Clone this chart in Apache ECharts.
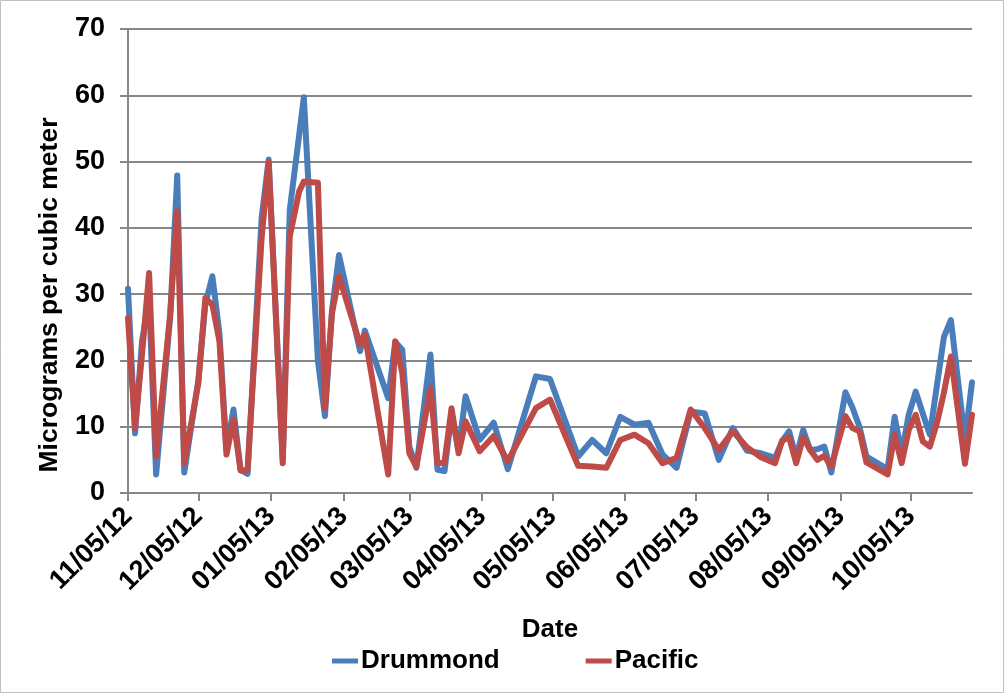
<!DOCTYPE html>
<html>
<head>
<meta charset="utf-8">
<script src="https://cdn.jsdelivr.net/npm/echarts@6/dist/echarts.min.js"></script>
<style>html,body{margin:0;padding:0;background:#fff}#c{width:1004px;height:693px}</style>
</head>
<body>
<div id="c"></div>
<script>
const dates = ['2012-11-05','2012-11-08','2012-11-11','2012-11-14','2012-11-17','2012-11-23','2012-11-26','2012-11-29',
'2012-12-05','2012-12-08','2012-12-11','2012-12-14','2012-12-17','2012-12-20','2012-12-23','2012-12-26',
'2013-01-01','2013-01-04','2013-01-10','2013-01-13','2013-01-17','2013-01-19','2013-01-25','2013-01-28','2013-01-31',
'2013-02-03','2013-02-12','2013-02-14','2013-02-24','2013-02-27','2013-03-02','2013-03-05','2013-03-08','2013-03-14',
'2013-03-17','2013-03-20','2013-03-23','2013-03-26','2013-03-29','2013-04-04','2013-04-10','2013-04-16','2013-04-28',
'2013-05-04','2013-05-16','2013-05-22','2013-05-28','2013-06-03','2013-06-09','2013-06-15','2013-06-21','2013-06-27',
'2013-07-03','2013-07-09','2013-07-15','2013-07-21','2013-07-27','2013-08-02','2013-08-08','2013-08-11','2013-08-14',
'2013-08-17','2013-08-20','2013-08-23','2013-08-26','2013-08-29','2013-09-01','2013-09-07','2013-09-10','2013-09-13',
'2013-09-16','2013-09-25','2013-09-28','2013-10-01','2013-10-04','2013-10-07','2013-10-10','2013-10-13','2013-10-16',
'2013-10-19','2013-10-22','2013-10-28','2013-10-31'];
const drummond = [30.8,9.0,23,29,2.8,26.6,47.9,3.1,
17,28.5,32.7,24.1,6.5,12.6,3.5,2.9,
41.5,50.3,5,42.7,54,59.7,20,11.6,27.5,
35.9,21.4,24.5,14.3,22.8,21.6,7,3.8,20.9,
3.5,3.3,12,6.5,14.6,8.0,10.6,3.6,17.6,
17.2,5.5,8.0,6.0,11.5,10.3,10.6,5.8,3.8,
12.3,12.0,5.0,9.8,6.4,6.0,5.3,7.8,9.3,
5.3,9.5,6.5,6.6,7.0,3.1,15.2,12.9,10.0,
5.5,3.6,11.5,6.0,11.8,15.3,12.0,8.8,16.1,
23.5,26.1,8,16.7];
const pacific = [26.4,9.8,21,33.2,5.5,27,42.5,4.5,
16.6,29.4,28.4,22.9,5.8,11.1,3.4,3.5,
38.5,49.9,4.5,38.7,45.5,47,46.8,12.8,27.1,
32.7,22.4,23.9,2.8,22.9,18.1,6.0,4.0,15.8,
4.5,4.6,12.8,6.0,10.8,6.3,8.6,4.8,12.8,
14.1,4.1,4.0,3.8,8.0,8.8,7.5,4.5,5.3,
12.6,9.8,6.5,9.3,6.9,5.4,4.5,7.9,8.4,
4.5,8.4,6.5,5.0,5.6,4.0,11.6,9.8,9.3,
4.6,2.8,8.8,4.5,9.5,11.8,7.8,7.0,10.5,
15.1,20.6,4.4,11.8];
const tickDates = ['2012-11-05','2012-12-05','2013-01-05','2013-02-05','2013-03-05','2013-04-05',
'2013-05-05','2013-06-05','2013-07-05','2013-08-05','2013-09-05','2013-10-05'];

function ts(s){const p=s.split('-').map(Number);return Date.UTC(p[0],p[1]-1,p[2]);}
function pad(n){return (n<10?'0':'')+n;}
function fmt(v){const d=new Date(v);return pad(d.getUTCMonth()+1)+'/'+pad(d.getUTCDate())+'/'+pad(d.getUTCFullYear()%100);}

const FONT = '"Liberation Sans", Arial, sans-serif';
const GRAY = '#868686';
const chart = echarts.init(document.getElementById('c'), null, {renderer:'canvas'});
chart.setOption({
  animation:false,
  backgroundColor:'#fff',
  textStyle:{fontFamily:FONT},
  grid:{left:128,right:32,top:29,bottom:200,containLabel:false,outerBoundsMode:'none'},
  legend:{
    data:[{name:'Drummond',icon:'rect'},{name:'Pacific',icon:'rect'}],
    left:327, top:643,
    itemWidth:26, itemHeight:5, itemGap:86,
    textStyle:{fontFamily:FONT,fontWeight:'bold',fontSize:26,color:'#000',padding:[0,0,0,-2]}
  },
  xAxis:{
    type:'value',
    min:ts(dates[0]), max:ts(dates[dates.length-1]),
    name:'Date', nameLocation:'middle', nameGap:124,
    nameTextStyle:{fontFamily:FONT,fontWeight:'bold',fontSize:26,color:'#000'},
    axisLine:{show:true,lineStyle:{color:GRAY,width:2}},
    axisTick:{show:true,length:8,lineStyle:{color:GRAY,width:2},customValues:tickDates.map(ts)},
    axisLabel:{rotate:45,margin:19,fontFamily:FONT,fontWeight:'bold',fontSize:27,color:'#000',
      customValues:tickDates.map(ts),formatter:function(v){return fmt(v);}},
    splitLine:{show:false}
  },
  yAxis:{
    type:'value', min:0, max:70, interval:10,
    axisLine:{show:true,lineStyle:{color:GRAY,width:2}},
    axisTick:{show:true,length:8,lineStyle:{color:GRAY,width:2}},
    axisLabel:{margin:23,fontFamily:FONT,fontWeight:'bold',fontSize:27,color:'#000'},
    splitLine:{show:true,lineStyle:{color:GRAY,width:2}}
  },
  graphic:[
    {type:'rect',shape:{x:0.5,y:0.5,width:1003,height:692},style:{fill:'none',stroke:'#bfbfbf',lineWidth:1},silent:true},
    {type:'text',x:50,y:295,rotation:Math.PI/2,
      style:{text:'Micrograms per cubic meter',font:'bold 26.5px '+FONT,fill:'#000',align:'center',verticalAlign:'middle'}}
  ],
  series:[
    {name:'Drummond',type:'line',symbol:'none',data:dates.map((d,i)=>[ts(d),drummond[i]]),
      lineStyle:{color:'#4A7EBB',width:6,join:'round',cap:'round'},itemStyle:{color:'#4A7EBB'}},
    {name:'Pacific',type:'line',symbol:'none',data:dates.map((d,i)=>[ts(d),pacific[i]]),
      lineStyle:{color:'#BE4B48',width:6,join:'round',cap:'round'},itemStyle:{color:'#BE4B48'}}
  ]
});
</script>
</body>
</html>
